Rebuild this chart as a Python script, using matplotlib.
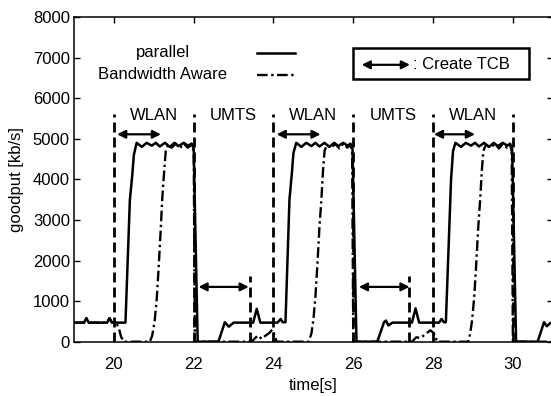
import matplotlib
matplotlib.use("Agg")
import matplotlib.pyplot as plt
from matplotlib.lines import Line2D

plt.rcParams['font.family'] = ['Liberation Sans', 'DejaVu Sans']

# ---------------- data ----------------
par_t = [19.00, 19.25, 19.31, 19.37, 19.83, 19.89, 19.95, 20.29, 20.40, 20.46, 20.50, 20.57,
         20.70, 20.82, 20.95, 21.05, 21.15, 21.28, 21.40, 21.52, 21.62, 21.75, 21.86, 21.95,
         22.00, 22.10, 22.62, 22.78, 22.88, 23.00, 23.49, 23.58, 23.67, 24.10, 24.18, 24.23,
         24.30, 24.40, 24.46, 24.50, 24.57,
         24.70, 24.82, 24.95, 25.05, 25.15, 25.28, 25.40, 25.52, 25.62, 25.75, 25.86, 25.93,
         25.98, 26.08, 26.60, 26.77, 26.82, 26.88, 26.98, 27.47, 27.56, 27.65, 28.15, 28.21,
         28.27, 28.32, 28.45, 28.50, 28.56,
         28.70, 28.82, 28.95, 29.05, 29.15, 29.28, 29.40, 29.52, 29.62, 29.75, 29.86, 29.93,
         29.98, 30.08, 30.62, 30.78, 30.85, 30.95, 31.00]
par_v = [470, 470, 580, 470, 470, 580, 470, 470, 3490, 4100, 4600, 4900,
         4800, 4900, 4830, 4900, 4810, 4900, 4800, 4900, 4820, 4900, 4830, 4880,
         4750, 0, 0, 480, 370, 470, 470, 810, 470, 470, 560, 480,
         480, 3500, 4150, 4650, 4900,
         4800, 4900, 4820, 4900, 4810, 4900, 4800, 4900, 4820, 4900, 4830, 4880,
         4750, 0, 0, 480, 520, 400, 470, 470, 820, 470, 470, 560,
         480, 480, 4000, 4700, 4900,
         4800, 4900, 4830, 4900, 4810, 4900, 4800, 4900, 4820, 4900, 4830, 4880,
         4750, 0, 0, 480, 380, 470, 470]

bw_t = [19.00, 19.25, 19.31, 19.37, 19.83, 19.89, 19.95, 20.05, 20.12, 20.18, 20.25,
        20.90, 20.96, 21.02, 21.07, 21.12, 21.17, 21.21, 21.26, 21.30, 21.36, 21.45, 21.55,
        21.65, 21.75, 21.85, 21.95, 22.00, 22.03,
        23.45, 23.55, 23.62, 23.70, 23.80, 23.90, 23.97, 24.02, 24.08,
        24.88, 24.95, 25.00, 25.05, 25.10, 25.15, 25.20, 25.24, 25.28, 25.34, 25.45, 25.55,
        25.65, 25.75, 25.85, 25.93, 25.97, 26.00,
        27.47, 27.58, 27.68, 27.80, 27.93, 28.02, 28.10,
        28.88, 28.93, 28.98, 29.03, 29.08, 29.13, 29.18, 29.22, 29.26, 29.32, 29.45, 29.55,
        29.65, 29.75, 29.85, 29.93, 29.97, 30.00, 31.00]
bw_v = [470, 470, 580, 470, 470, 580, 470, 470, 350, 120, 0,
        0, 150, 500, 1000, 1800, 2700, 3500, 4200, 4700, 4850, 4780, 4880,
        4760, 4880, 4780, 4850, 4700, 0,
        0, 100, 150, 70, 150, 220, 300, 180, 0,
        0, 200, 550, 1100, 1900, 2800, 3500, 4200, 4700, 4850, 4780, 4880,
        4760, 4880, 4780, 4850, 4700, 0,
        0, 110, 90, 180, 280, 210, 0,
        0, 200, 550, 1100, 1900, 2800, 3500, 4200, 4700, 4850, 4780, 4880,
        4760, 4880, 4780, 4850, 4700, 0, 0]

switch_t = [20, 22, 24, 26, 28, 30]
switch_top = 5600
tcb_end_t = [23.4, 27.4]
tcb_end_top = 1620

net_labels = ['WLAN', 'UMTS', 'WLAN', 'UMTS', 'WLAN']
net_label_t = [21, 23, 25, 27, 29]
net_label_y = 5580

wlan_arrows = [(20.08, 21.18), (24.08, 25.18), (28.02, 29.05)]
wlan_arrow_y = 5110
umts_arrows = [(22.12, 23.38), (26.14, 27.41)]
umts_arrow_y = 1350

xticks = [20, 22, 24, 26, 28, 30]
yticks = [0, 1000, 2000, 3000, 4000, 5000, 6000, 7000, 8000]

# ---------------- figure ----------------
W, H = 551, 396
fig = plt.figure(figsize=(W / 100, H / 100), dpi=100)
ax_left, ax_right = 74, 74 + 12 * 39.9
ax_top, ax_bot = 17, 341.7
ax = fig.add_axes([ax_left / W, 1 - ax_bot / H, (ax_right - ax_left) / W, (ax_bot - ax_top) / H])

fs = 12
bw_style = (0, (4.5, 1.5, 1.0, 1.5))
ax.plot(par_t, par_v, color='black', lw=1.8, solid_joinstyle='round')
ax.plot(bw_t, bw_v, color='black', lw=1.7, linestyle=bw_style)

for t in switch_t:
    ax.plot([t, t], [0, switch_top], color='black', lw=2.0, linestyle=(0, (3.6, 1.8)))
for t in tcb_end_t:
    ax.plot([t, t], [0, tcb_end_top], color='black', lw=2.0, linestyle=(0, (3.6, 1.8)))

for lab, t in zip(net_labels, net_label_t):
    ax.text(t, net_label_y, lab, ha='center', va='center', fontsize=fs)

aprops = dict(arrowstyle='<|-|>', color='black', lw=1.6, mutation_scale=12,
              shrinkA=0, shrinkB=0)
for a, b in wlan_arrows:
    ax.annotate('', xy=(b, wlan_arrow_y), xytext=(a, wlan_arrow_y), arrowprops=aprops)
for a, b in umts_arrows:
    ax.annotate('', xy=(b, umts_arrow_y), xytext=(a, umts_arrow_y), arrowprops=aprops)

# legend (manual)
ax.text(21.23, 7118, 'parallel', ha='center', va='center', fontsize=fs)
ax.text(21.22, 6575, 'Bandwidth Aware', ha='center', va='center', fontsize=fs)
ax.add_line(Line2D([23.58, 24.54], [7118, 7118], color='black', lw=1.8))
ax.add_line(Line2D([23.58, 24.54], [6575, 6575], color='black', lw=1.7, linestyle=bw_style))

# Create TCB box
ax.add_patch(plt.Rectangle((25.985, 6470), 30.41 - 25.985, 7234 - 6470, fill=False,
                           edgecolor='black', lw=1.8))
ax.annotate('', xy=(27.42, 6822), xytext=(26.21, 6822), arrowprops=aprops)
ax.text(27.50, 6822, ': Create TCB', ha='left', va='center', fontsize=fs)

ax.set_xlim(19, 31)
ax.set_ylim(0, 8000)
ax.set_xticks(xticks)
ax.set_yticks(yticks)
ax.tick_params(direction='in', length=4, width=1.0, top=True, right=True,
               labelsize=fs, colors='black')
ax.tick_params(axis='x', pad=11)
ax.tick_params(axis='y', pad=3)
for s in ax.spines.values():
    s.set_linewidth(1.1)
ax.set_xlabel('time[s]', fontsize=fs, labelpad=4)
ax.set_ylabel('goodput [kb/s]', fontsize=fs, labelpad=6)

fig.savefig('out.png', dpi=100)
